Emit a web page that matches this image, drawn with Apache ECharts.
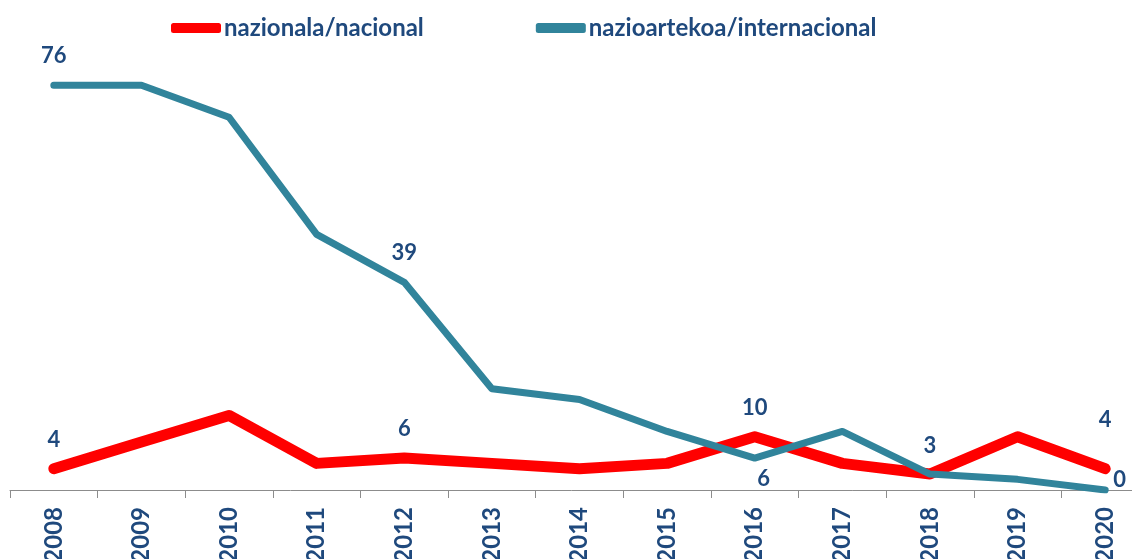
<!DOCTYPE html>
<html>
<head>
<meta charset="utf-8">
<script src="https://cdn.jsdelivr.net/npm/echarts@6/dist/echarts.min.js"></script>
<style>
html,body{margin:0;padding:0;background:#fff;}
#c{width:1132px;height:559px;}
</style>
</head>
<body>
<div id="c"></div>
<script>
const years = ['2008','2009','2010','2011','2012','2013','2014','2015','2016','2017','2018','2019','2020'];
const nacional = [4, 9, 14, 5, 6, 5, 4, 5, 10, 5, 3, 10, 4];
const internacional = [76, 76, 70, 48, 39, 19, 17, 11, 6, 11, 3, 2, 0];
const seriesNames = ['nazionala/nacional', 'nazioartekoa/internacional'];

const txt = '#1F497D';
const font = 'Lato';

// label placement (styling only)
const natLabels = {0:{position:'top',distance:18},4:{position:'top',distance:18},8:{position:'top',distance:18},10:{position:'top',distance:17},12:{position:'top',distance:38}};
const intLabels = {0:{position:'top',distance:18},4:{position:'top',distance:18},8:{position:'bottom',distance:10,offset:[9,0]},12:{position:'right',distance:8,offset:[0,-10]}};

function build(vals, lab){
  return vals.map((v,i)=>{
    const l = lab[i];
    if(!l) return {value:v, label:{show:false}};
    return {value:v, label:Object.assign({show:true}, l)};
  });
}

const chart = echarts.init(document.getElementById('c'));
chart.setOption({
  animation:false,
  backgroundColor:'#fff',
  textStyle:{fontFamily:font},
  legend:{
    left:166, top:11, itemGap:112, itemWidth:50, itemHeight:10,
    textStyle:{color:txt, fontWeight:'bold', fontSize:24, fontFamily:font, padding:[0,0,0,-2]},
    data:[
      {name:seriesNames[0], icon:'roundRect', itemStyle:{color:'#FF0000'}},
      {name:seriesNames[1], icon:'roundRect', itemStyle:{color:'#31849B'}}
    ]
  },
  grid:{left:10, width:1139, top:64, bottom:69, containLabel:false, outerBoundsMode:'none'},
  xAxis:{
    type:'category', data:years, boundaryGap:true,
    axisLine:{lineStyle:{color:'#8C8C8C', width:1}},
    axisTick:{show:true, length:8, lineStyle:{color:'#8C8C8C'}},
    axisLabel:{rotate:90, color:txt, fontWeight:'bold', fontSize:24, fontFamily:font, margin:17}
  },
  yAxis:{type:'value', min:0, max:80, show:false, splitLine:{show:false}},
  series:[
    {
      name:seriesNames[0], type:'line', data:build(nacional, natLabels),
      symbol:'circle', symbolSize:0, showSymbol:true,
      itemStyle:{color:'#FF0000'},
      lineStyle:{color:'#FF0000', width:11, cap:'round', join:'round'},
      label:{color:txt, fontWeight:'bold', fontSize:22, fontFamily:font}
    },
    {
      name:seriesNames[1], type:'line', data:build(internacional, intLabels),
      symbol:'circle', symbolSize:0, showSymbol:true,
      itemStyle:{color:'#31849B'},
      lineStyle:{color:'#31849B', width:7, cap:'round', join:'round'},
      label:{color:txt, fontWeight:'bold', fontSize:22, fontFamily:font}
    }
  ]
});
</script>
</body>
</html>
